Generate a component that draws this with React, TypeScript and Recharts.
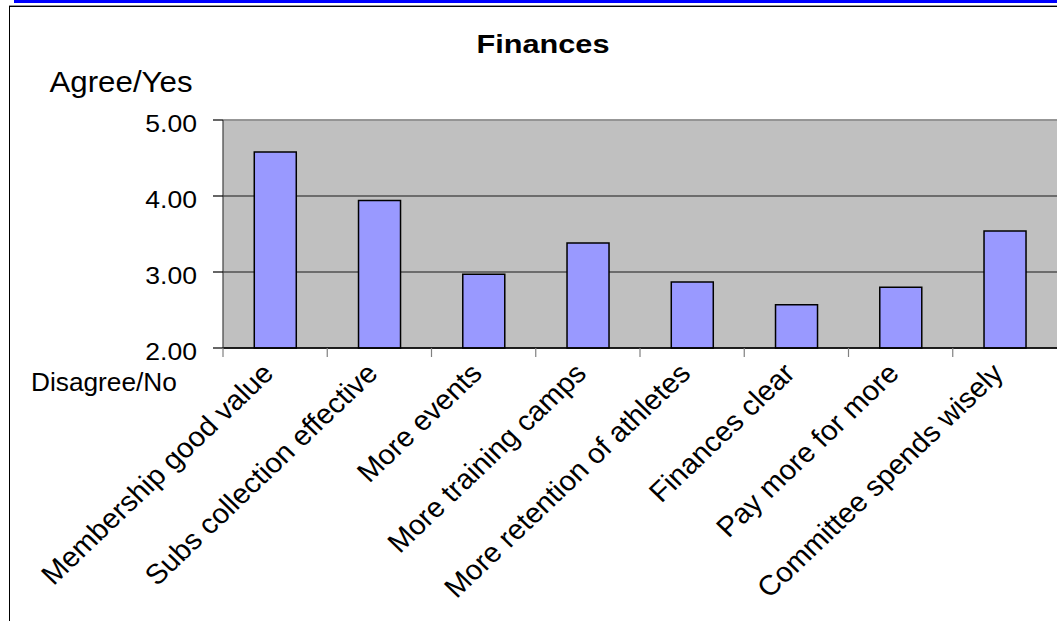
import {
  Bar,
  BarChart,
  CartesianGrid,
  ReferenceLine,
  XAxis,
  YAxis,
} from "recharts";

// Survey answers, 1 = Disagree/No ... 5 = Agree/Yes
const categories = [
  "Membership good value",
  "Subs collection effective",
  "More events",
  "More training camps",
  "More retention of athletes",
  "Finances clear",
  "Pay more for more",
  "Committee spends wisely",
];
const scores = [4.58, 3.94, 2.97, 3.38, 2.87, 2.57, 2.8, 3.54];
const yTicks = [2, 3, 4, 5];

const rows = categories.map((name, i) => ({ name, score: scores[i] }));

const FONT = "'Liberation Sans', Arial, sans-serif";
const LABEL_GAP = 27;

const YTick = ({ x, y, payload }: any) => (
  <text
    transform={`translate(${x},${y + 11.6}) scale(1.14,1)`}
    textAnchor="end"
    fontFamily={FONT}
    fontSize={23.3}
    fill="#000"
  >
    {Number(payload.value).toFixed(2)}
  </text>
);

// category label plus the small tick mark on the left edge of each band
const CatTick = ({ x, y, payload }: any) => {
  const axisY = y - LABEL_GAP;
  const edgeX = x - (payload.offset ?? 0);
  return (
    <g>
      <line
        x1={edgeX}
        x2={edgeX}
        y1={axisY}
        y2={axisY + 9}
        stroke="#808080"
        strokeWidth={1.2}
      />
      <g clipPath="url(#labelClip)">
        <text
          transform={`translate(${x},${y}) scale(1.05,1) rotate(-45)`}
          textAnchor="end"
          fontFamily={FONT}
          fontSize={28}
          fill="#000"
        >
          {payload.value}
        </text>
      </g>
    </g>
  );
};

export default function App() {
  return (
    <div
      style={{
        position: "absolute",
        left: 0,
        top: 0,
        width: 1057,
        height: 621,
        overflow: "hidden",
        background: "#fff",
      }}
    >
      <div
        style={{
          position: "absolute",
          left: 14,
          top: 0,
          width: 1100,
          height: 3,
          background: "#0000ff",
        }}
      />
      <div
        style={{
          position: "absolute",
          left: 9,
          top: 5,
          width: 1100,
          height: 700,
          borderTop: "1px solid #999",
        }}
      />
      <div
        style={{
          position: "absolute",
          left: 9,
          top: 6,
          width: 1100,
          height: 700,
          borderTop: "1px solid #000",
          borderLeft: "1px solid #000",
        }}
      />
      <div style={{ position: "absolute", left: 0, top: 0 }}>
        <BarChart
          width={1057}
          height={621}
          data={rows}
          margin={{ top: 120, right: 0, left: 0, bottom: 0 }}
          barCategoryGap="30%"
        >
          <defs>
            <clipPath id="labelClip">
              <rect x={0} y={365} width={1057} height={300} />
            </clipPath>
          </defs>
          <CartesianGrid
            vertical={false}
            fill="#c0c0c0"
            fillOpacity={1}
            stroke="#505050"
            strokeWidth={1.5}
          />
          <XAxis
            dataKey="name"
            height={273}
            interval={0}
            tickSize={0}
            tickMargin={LABEL_GAP}
            tickLine={false}
            axisLine={{ stroke: "#000", strokeWidth: 1.5 }}
            tick={<CatTick />}
          />
          <YAxis
            domain={[2, 5]}
            ticks={yTicks}
            width={223}
            tickSize={10}
            tickMargin={16}
            tickLine={{ stroke: "#000", strokeWidth: 1.2 }}
            axisLine={{ stroke: "#404040", strokeWidth: 1.2 }}
            tick={<YTick />}
          />
          <ReferenceLine y={5} stroke="#a0a0a0" strokeWidth={1.5} />
          <Bar
            dataKey="score"
            fill="#9999ff"
            stroke="#000"
            strokeWidth={1.5}
            isAnimationActive={false}
          />
        </BarChart>
      </div>
      <svg
        width={1057}
        height={621}
        style={{ position: "absolute", left: 0, top: 0, pointerEvents: "none" }}
      >
        <text
          transform="translate(543,53) scale(1.18,1)"
          textAnchor="middle"
          fontFamily={FONT}
          fontWeight="bold"
          fontSize={26}
        >
          Finances
        </text>
        <text
          transform="translate(49.5,92) scale(1.06,1)"
          fontFamily={FONT}
          fontSize={29.5}
        >
          Agree/Yes
        </text>
        <text
          transform="translate(31,391) scale(1.05,1)"
          fontFamily={FONT}
          fontSize={25}
        >
          Disagree/No
        </text>
      </svg>
    </div>
  );
}
